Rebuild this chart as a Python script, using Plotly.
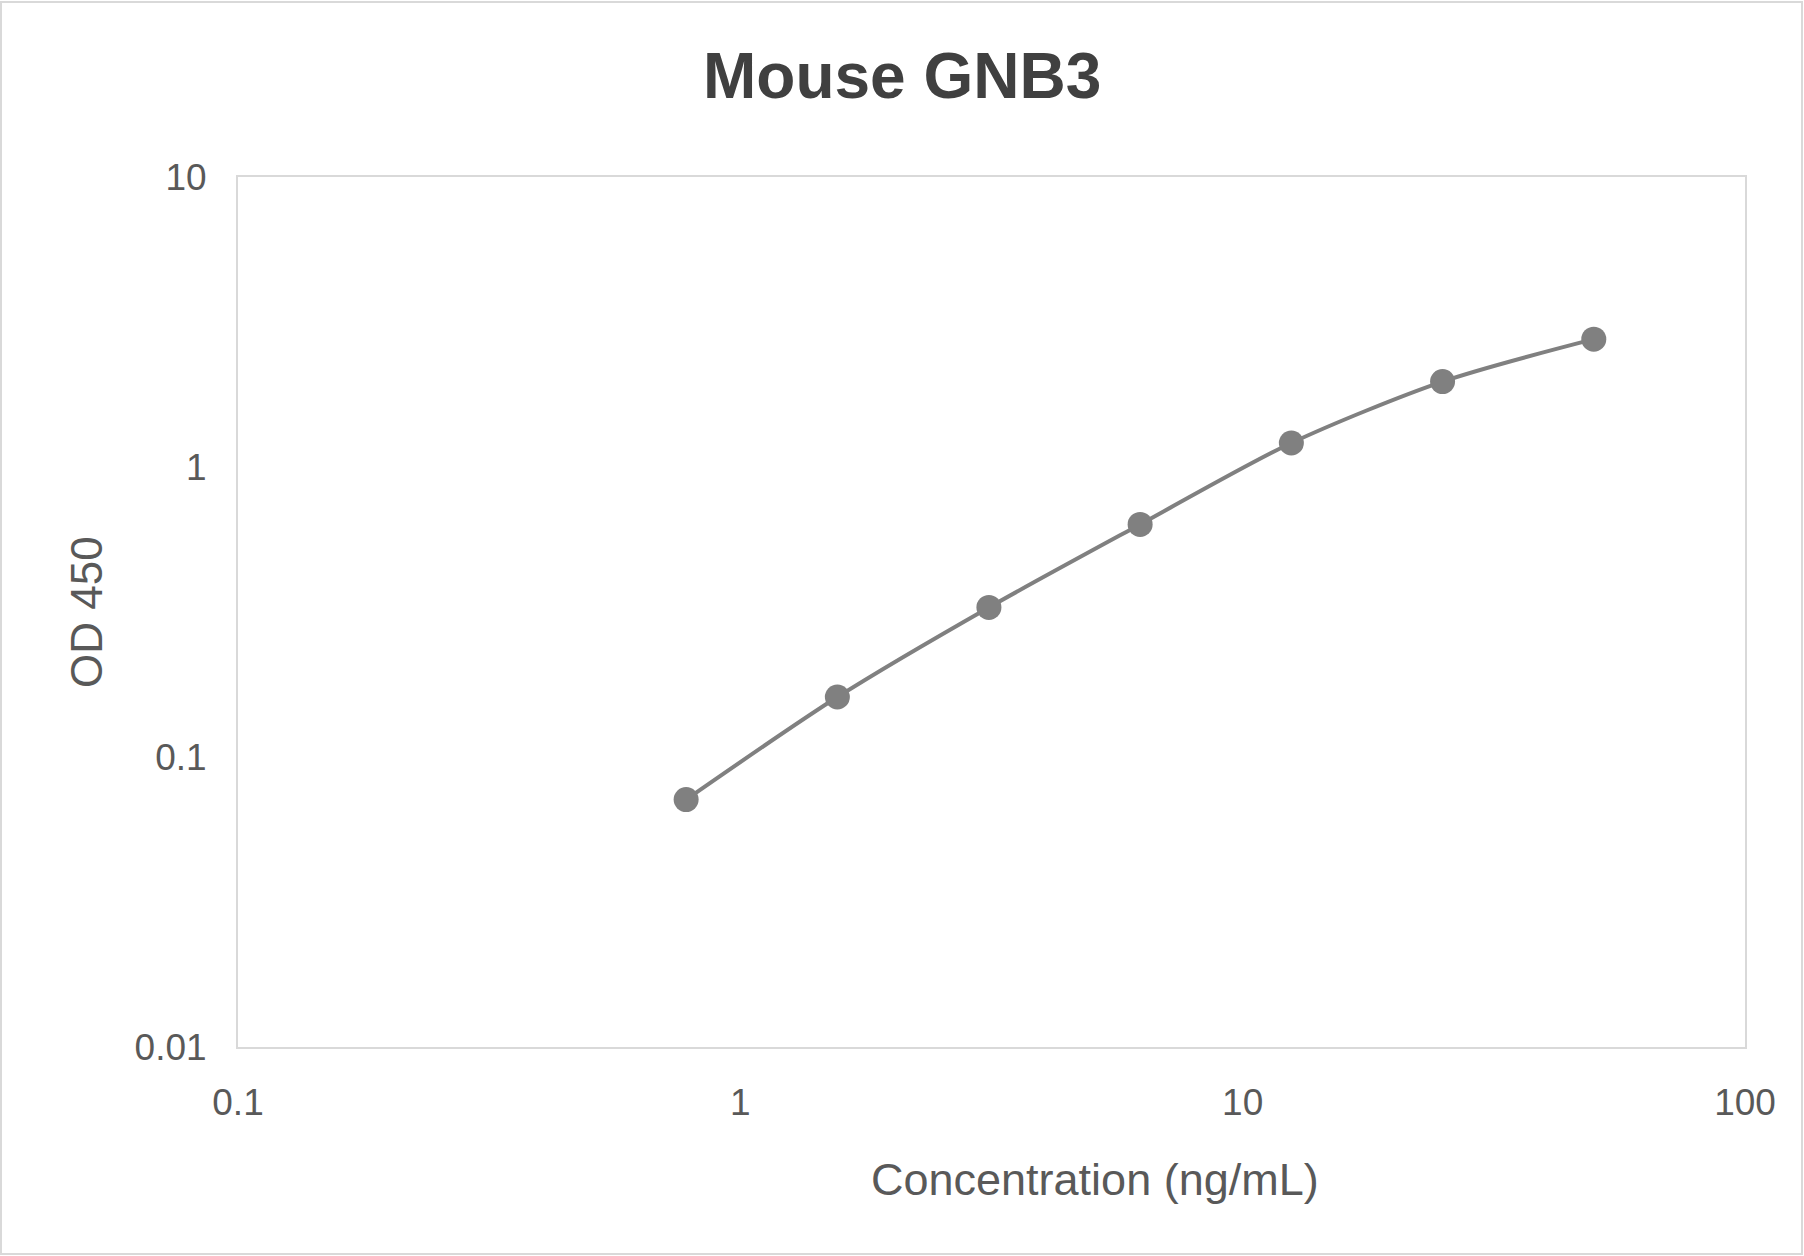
import plotly.graph_objects as go

# Data
concentration = [0.78, 1.56, 3.125, 6.25, 12.5, 25, 50]
od450 = [0.0713, 0.161, 0.328, 0.634, 1.21, 1.97, 2.76]

x_tickvals = [0.1, 1, 10, 100]
x_ticktext = ["0.1", "1", "10", "100"]
y_tickvals = [0.01, 0.1, 1, 10]
y_ticktext = ["0.01", "0.1", "1", "10"]

title_text = "Mouse GNB3"
x_title = "Concentration (ng/mL)"
y_title = "OD 450"

W, H = 1804, 1256
ml, mr, mt, mb = 238, 59, 177, 209
pw = W - ml - mr
ph = H - mt - mb

fig = go.Figure()
fig.add_trace(go.Scatter(
    x=concentration, y=od450, mode="lines+markers",
    line=dict(color="#808080", width=4, shape="spline", smoothing=0.8),
    marker=dict(color="#808080", size=25),
    showlegend=False,
))

font_family = "Liberation Sans, Arial, sans-serif"

fig.update_layout(
    width=W, height=H,
    margin=dict(l=ml, r=mr, t=mt, b=mb),
    paper_bgcolor="white", plot_bgcolor="white",
    font=dict(family=font_family, color="#595959"),
    showlegend=False,
    xaxis=dict(
        type="log", range=[-1, 2],
        tickvals=x_tickvals, ticktext=x_ticktext,
        tickfont=dict(size=37, color="#595959"),
        showgrid=False, zeroline=False,
        showline=True, linecolor="#d9d9d9", linewidth=2, mirror=True,
        ticks="", ticklabelstandoff=22,
    ),
    yaxis=dict(
        type="log", range=[-2, 1],
        tickvals=y_tickvals, ticktext=y_ticktext,
        tickfont=dict(size=37, color="#595959"),
        showgrid=False, zeroline=False,
        showline=True, linecolor="#d9d9d9", linewidth=2, mirror=True,
        ticks="", ticklabelstandoff=22,
    ),
    shapes=[dict(
        type="rect", xref="paper", yref="paper",
        x0=(1 - ml) / pw, x1=(W - 2 - ml) / pw,
        y0=-(mb - 2) / ph, y1=1 + (mt - 2) / ph,
        line=dict(color="#d9d9d9", width=2), fillcolor="rgba(0,0,0,0)",
        layer="below",
    )],
    annotations=[
        dict(text="<b>" + title_text + "</b>", xref="paper", yref="paper",
             x=(902 - ml) / pw, y=1 + (mt - 76) / ph, xanchor="center", yanchor="middle",
             showarrow=False, font=dict(size=64, color="#404040", family=font_family)),
        dict(text=x_title, xref="paper", yref="paper",
             x=(1095 - ml) / pw, y=-(1179 - mt - ph) / ph, xanchor="center", yanchor="middle",
             showarrow=False, font=dict(size=45, color="#595959", family=font_family)),
        dict(text=y_title, xref="paper", yref="paper", textangle=-90,
             x=(86 - ml) / pw, y=0.5, xanchor="center", yanchor="middle",
             showarrow=False, font=dict(size=44, color="#595959", family=font_family)),
    ],
)

fig.write_html("out.html", config={"displayModeBar": False},
               post_script="document.body.style.margin='0';document.body.style.overflow='hidden';")
